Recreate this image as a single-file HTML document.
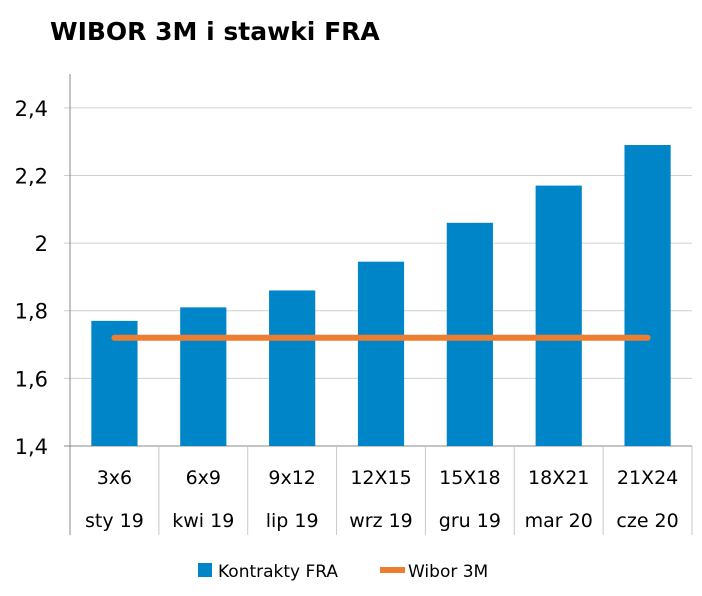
<!DOCTYPE html>
<html><head><meta charset="utf-8"><style>
body{margin:0;background:#fff;}
svg{font-family:"DejaVu Sans","Liberation Sans",sans-serif;}
</style></head><body>
<svg width="702" height="591" xmlns="http://www.w3.org/2000/svg">
<text x="50" y="40" font-size="25" font-weight="bold" fill="#000">WIBOR 3M i stawki FRA</text>
<g id="grid"></g><g id="bars"></g><g id="line"></g><g id="axes"></g>
<g>
<rect x="198" y="563" width="14" height="14" fill="#0086C8"/>
<text x="218" y="577" font-size="17">Kontrakty FRA</text>
<line x1="380" y1="570" x2="405" y2="570" stroke="#ED7D31" stroke-width="6"/>
<text x="408" y="577" font-size="17">Wibor 3M</text>
</g>
</svg>
<script>
const categories=["3x6","6x9","9x12","12X15","15X18","18X21","21X24"];
const dates=["sty 19","kwi 19","lip 19","wrz 19","gru 19","mar 20","cze 20"];
const fraValues=[1.77,1.81,1.86,1.945,2.06,2.17,2.29];
const wiborValues=[1.72,1.72,1.72,1.72,1.72,1.72,1.72];
const yTicks=[1.4,1.6,1.8,2,2.2,2.4];
const yTickLabels=["1,4","1,6","1,8","2","2,2","2,4"];
const NS="http://www.w3.org/2000/svg";
const X0=70,X1=692,YB=446,YT=74,VMIN=1.4,VMAX=2.5;
const cw=(X1-X0)/categories.length;
const y=v=>YB-(v-VMIN)/(VMAX-VMIN)*(YB-YT);
const xc=i=>X0+cw*(i+0.5);
function mk(tag,attrs,parent,txt){const e=document.createElementNS(NS,tag);for(const k in attrs)e.setAttribute(k,attrs[k]);if(txt!==undefined)e.textContent=txt;document.getElementById(parent).appendChild(e);return e;}
yTicks.forEach((t,i)=>{
 const g=mk('line',{x1:X0-6,x2:X1,y1:y(t),y2:y(t),stroke:i==0?'#888':'#d0d0d0','stroke-width':1},'grid');
 
 
 const l=mk('text',{x:48,y:y(t)+8,'font-size':21,'text-anchor':'end'},'axes',yTickLabels[i]);
 
 
});
const ax=mk('line',{x1:X0,x2:X0,y1:YT,y2:535,stroke:'#888'},'axes');


categories.forEach((c,i)=>{
 const bw=cw*0.52,v=fraValues[i];
 const b=mk('rect',{x:xc(i)-bw/2,y:y(v),width:bw,height:YB-y(v),fill:'#0086C8'},'bars');
 
 
 const s=mk('line',{x1:X0+cw*(i+1),x2:X0+cw*(i+1),y1:YB,y2:535,stroke:'#c8c8c8'},'axes');
 
 
 const t1=mk('text',{x:xc(i),y:484,'font-size':19,'text-anchor':'middle'},'axes',c);
 
 
 const t2=mk('text',{x:xc(i),y:527,'font-size':19,'text-anchor':'middle'},'axes',dates[i]);
 
 
});
const pts=wiborValues.map((v,i)=>xc(i)+','+y(v)).join(' ');
const pl=mk('polyline',{points:pts,fill:'none',stroke:'#ED7D31','stroke-width':6,'stroke-linecap':'round'},'line');


</script>
</body></html>
